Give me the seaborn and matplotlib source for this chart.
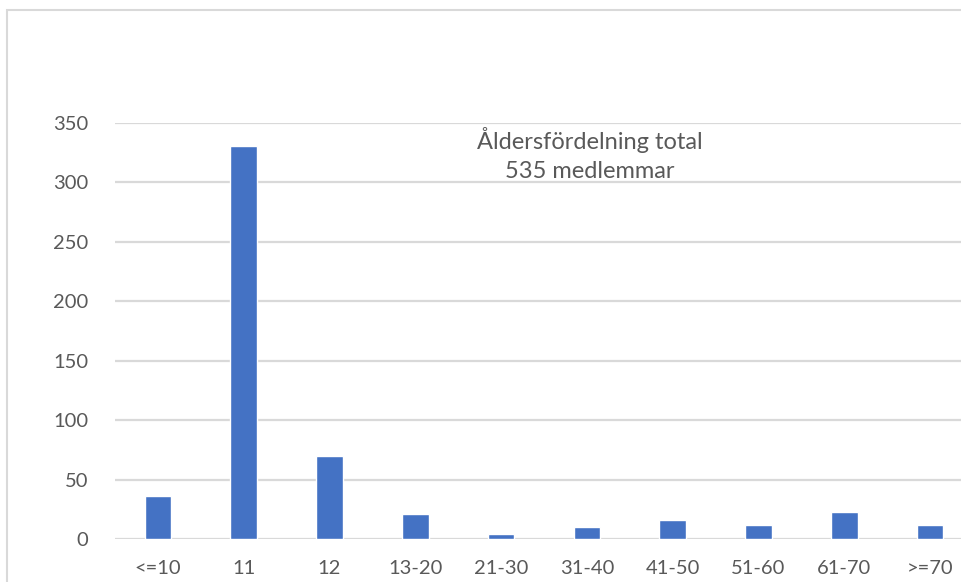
import matplotlib
matplotlib.use("Agg")
import matplotlib.pyplot as plt
import matplotlib.patches as patches
import seaborn as sb
import pandas as pd

# aldersgrupper och antal medlemmar
categories = ["<=10", "11", "12", "13-20", "21-30", "31-40", "41-50", "51-60", "61-70", ">=70"]
members = [36, 331, 70, 21, 4, 10, 16, 12, 23, 12]
yticks = [0, 50, 100, 150, 200, 250, 300, 350]

df = pd.DataFrame({"Alder": categories, "Antal": members})

sb.set_style("white")
plt.rcParams["font.family"] = ["Lato", "DejaVu Sans"]

fig = plt.figure(figsize=(9.61, 5.82), dpi=100)
ax = fig.add_axes([115 / 961, 43 / 582, 858 / 961, 416 / 582])

sb.barplot(data=df, x="Alder", y="Antal", color="#4472C4", width=0.31,
           saturation=1, ax=ax, zorder=3)

ax.set_ylim(0, 350)
ax.set_xlim(-0.5, len(categories) - 0.5)
ax.set_yticks(yticks)
ax.yaxis.grid(True, color="#d9d9d9", linewidth=1.6, zorder=0)
ax.xaxis.grid(False)
for s in ax.spines.values():
    s.set_visible(False)
ax.set_xlabel("")
ax.set_ylabel("")
ax.tick_params(axis="both", length=0, labelsize=14.5, labelcolor="#595959")
ax.tick_params(axis="x", pad=15)
ax.tick_params(axis="y", pad=19)

# titel inne i diagrammet
ax.text(0.553, 0.925, "Åldersfördelning total\n535 medlemmar", transform=ax.transAxes,
        ha="center", va="center", fontsize=17, color="#595959", linespacing=1.45)

# ram runt diagrammet
fig.patches.append(patches.Rectangle((7 / 961, -0.1), 1.1, 572 / 582 + 0.1,
                                     transform=fig.transFigure, fill=False,
                                     edgecolor="#d9d9d9", linewidth=1.5))

fig.savefig("out.png", dpi=100)
